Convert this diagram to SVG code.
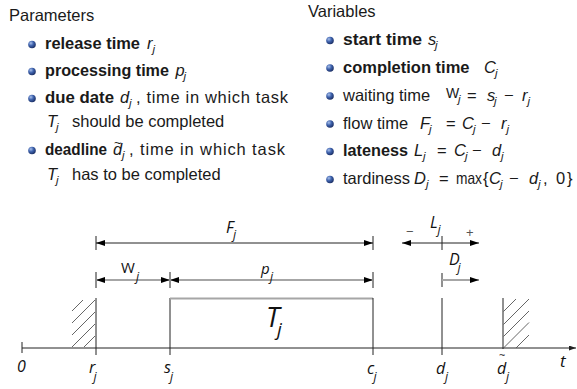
<svg xmlns="http://www.w3.org/2000/svg" width="577" height="389" viewBox="0 0 577 389">
<style>
text{font-family:"Liberation Sans",Arial,sans-serif;font-size:16.5px;fill:#1a1a1a}
.b{font-weight:bold}
.mi{font-style:italic}
.sj{font-style:italic;font-size:11.5px}
.d{font-family:"Open Sans","Liberation Sans",sans-serif;font-style:italic;font-size:16px;fill:#111}
.ds{font-family:"Open Sans","Liberation Sans",sans-serif;font-style:italic;font-size:12.5px;fill:#111}
.ln{stroke:#222;stroke-width:1;fill:none}
.gl{stroke:#a6a6a6;stroke-width:2.2;fill:none}
.ht{stroke:#555;stroke-width:0.9;fill:none}
</style>
<defs>
<radialGradient id="ball" cx="0.35" cy="0.32" r="0.75">
<stop offset="0" stop-color="#a9c0ea"/>
<stop offset="0.45" stop-color="#3f63ae"/>
<stop offset="1" stop-color="#17295c"/>
</radialGradient>
<marker id="ah" viewBox="0 0 9 6" refX="9" refY="3" markerWidth="9" markerHeight="6" markerUnits="userSpaceOnUse" orient="auto-start-reverse">
<path d="M0,0 L9,3 L0,6 z" fill="#000"/>
</marker>
<marker id="ahs" viewBox="0 0 7 5" refX="7" refY="2.5" markerWidth="7" markerHeight="5" markerUnits="userSpaceOnUse" orient="auto">
<path d="M0,0 L7,2.5 L0,5 z" fill="#222"/>
</marker>
</defs>

<g id="parameters">
<text x="9" y="21">Parameters</text>
<circle cx="32" cy="44.5" r="3.8" fill="url(#ball)"/>
<text class="b" x="45" y="49" textLength="95" lengthAdjust="spacingAndGlyphs">release time</text>
<text class="mi" x="147" y="49">r</text><text class="sj" x="152.5" y="52.5">j</text>
<circle cx="32" cy="71.5" r="3.8" fill="url(#ball)"/>
<text class="b" x="45" y="76" textLength="124" lengthAdjust="spacingAndGlyphs">processing time</text>
<text class="mi" x="175.5" y="76">p</text><text class="sj" x="183.5" y="79.5">j</text>
<circle cx="32" cy="98.5" r="3.8" fill="url(#ball)"/>
<text class="b" x="45" y="103" textLength="69" lengthAdjust="spacingAndGlyphs">due date</text>
<text class="mi" x="120" y="103">d</text><text class="sj" x="129" y="106.5">j</text>
<text x="136" y="103" textLength="152" lengthAdjust="spacing">, time in which task</text>
<text class="mi" x="47" y="127">T</text><text class="sj" x="56" y="130.5">j</text>
<text x="72" y="127">should be completed</text>
<circle cx="32" cy="150.5" r="3.8" fill="url(#ball)"/>
<text class="b" x="45" y="155" textLength="62" lengthAdjust="spacingAndGlyphs">deadline</text>
<text class="mi" x="113" y="155">d</text><text x="114" y="147" style="font-size:13px">~</text><text class="sj" x="122" y="158.5">j</text>
<text x="129" y="155" textLength="156" lengthAdjust="spacing">, time in which task</text>
<text class="mi" x="47" y="180">T</text><text class="sj" x="56" y="183.5">j</text>
<text x="72" y="180">has to be completed</text>
</g>

<g id="variables">
<text x="308" y="17">Variables</text>
<circle cx="330" cy="40.5" r="3.8" fill="url(#ball)"/>
<text class="b" x="343" y="45" textLength="79" lengthAdjust="spacingAndGlyphs">start time</text>
<text class="mi" x="428" y="45">s</text><text class="sj" x="435" y="48.5">j</text>
<circle cx="330" cy="68" r="3.8" fill="url(#ball)"/>
<text class="b" x="343" y="73">completion time</text>
<text class="mi" x="484" y="73">C</text><text class="sj" x="495" y="76.5">j</text>
<circle cx="330" cy="96" r="3.8" fill="url(#ball)"/>
<text x="343" y="101">waiting time</text>
<text x="446" y="98" style="font-size:14px">W</text><text class="sj" x="458" y="103">j</text>
<text x="467" y="101">=</text>
<text class="mi" x="487" y="101">s</text><text class="sj" x="494" y="104.5">j</text>
<text x="504" y="101">−</text>
<text class="mi" x="522" y="101">r</text><text class="sj" x="527.5" y="104.5">j</text>
<circle cx="330" cy="124" r="3.8" fill="url(#ball)"/>
<text x="343" y="129">flow time</text>
<text class="mi" x="420" y="129">F</text><text class="sj" x="429" y="132.5">j</text>
<text x="446" y="129">=</text>
<text class="mi" x="462" y="129">C</text><text class="sj" x="473" y="132.5">j</text>
<text x="481" y="129">−</text>
<text class="mi" x="501" y="129">r</text><text class="sj" x="506.5" y="132.5">j</text>
<circle cx="330" cy="151.5" r="3.8" fill="url(#ball)"/>
<text class="b" x="343" y="156" textLength="65" lengthAdjust="spacingAndGlyphs">lateness</text>
<text class="mi" x="414" y="156">L</text><text class="sj" x="423" y="159.5">j</text>
<text x="437" y="156">=</text>
<text class="mi" x="454" y="156">C</text><text class="sj" x="465" y="159.5">j</text>
<text x="472" y="156">−</text>
<text class="mi" x="492" y="156">d</text><text class="sj" x="501" y="159.5">j</text>
<circle cx="330" cy="179.5" r="3.8" fill="url(#ball)"/>
<text x="343" y="184">tardiness</text>
<text class="mi" x="414" y="184">D</text><text class="sj" x="426" y="187.5">j</text>
<text x="439" y="184">=</text>
<text x="456" y="184" textLength="26" lengthAdjust="spacingAndGlyphs">max</text>
<text x="483" y="184">{</text>
<text class="mi" x="489" y="184">C</text><text class="sj" x="500" y="187.5">j</text>
<text x="509" y="184">−</text>
<text class="mi" x="529" y="184">d</text><text class="sj" x="538" y="187.5">j</text>
<text x="543" y="184">,</text>
<text x="556" y="184">0</text>
<text x="567" y="184">}</text>
</g>

<g id="timeline">
<line class="ln" x1="22" y1="348" x2="576" y2="348" marker-end="url(#ahs)"/>
<line class="ln" x1="22" y1="342" x2="22" y2="353"/>
<text class="d" x="560" y="367" style="font-size:17px">t</text>
</g>

<g id="release">
<line class="ln" x1="96" y1="298" x2="96" y2="355"/>
<g class="ht">
<line x1="72" y1="311" x2="83" y2="300"/>
<line x1="72" y1="323" x2="95" y2="300"/>
<line x1="72" y1="335" x2="95" y2="312"/>
<line x1="72" y1="347" x2="95" y2="324"/>
<line x1="84" y1="347" x2="95" y2="336"/>
</g>
<text class="d" x="89" y="373">r</text><text class="ds" x="93.5" y="381">j</text>
<text class="d" x="17" y="372">0</text>
</g>

<g id="start">
<line class="ln" x1="170" y1="298" x2="170" y2="355"/>
<text class="d" x="164" y="373">s</text><text class="ds" x="170" y="381">j</text>
</g>

<g id="task">
<line class="gl" x1="170" y1="298.5" x2="373" y2="298.5"/>
<line class="ln" x1="373" y1="298" x2="373" y2="355"/>
<text class="d" x="266" y="327" style="font-size:27px">T</text><text class="d" x="277" y="336" style="font-size:19px">j</text>
<text class="d" x="367" y="374">c</text><text class="ds" x="373.5" y="381">j</text>
</g>

<g id="due">
<line class="ln" x1="442" y1="298" x2="442" y2="355"/>
<text class="d" x="436" y="374">d</text><text class="ds" x="445" y="381">j</text>
</g>

<g id="deadline">
<line class="ln" x1="503" y1="298" x2="503" y2="349"/>
<g class="ht">
<line x1="503.5" y1="311.5" x2="516" y2="299"/>
<line x1="503.5" y1="324.5" x2="529" y2="299"/>
<line x1="503.5" y1="336.5" x2="529" y2="311"/>
<line x1="503.5" y1="348" x2="529" y2="322.5"/>
<line x1="516" y1="348" x2="529" y2="335"/>
</g>
<text class="d" x="497" y="374">d</text><text class="d" x="499" y="359" style="font-size:11px;font-style:normal">~</text><text class="ds" x="506" y="381">j</text>
</g>

<g id="connectors">
<line class="ln" x1="96" y1="236" x2="96" y2="250"/>
<line class="ln" x1="373" y1="236" x2="373" y2="250"/>
<line class="ln" x1="96" y1="243" x2="373" y2="243" marker-start="url(#ah)" marker-end="url(#ah)"/>
<text class="d" x="226" y="233">F</text><text class="ds" x="233" y="239">j</text>

<line class="ln" x1="96" y1="272" x2="96" y2="288"/>
<line class="ln" x1="170" y1="272" x2="170" y2="288"/>
<line class="ln" x1="373" y1="272" x2="373" y2="288"/>
<line class="gl" x1="96" y1="280" x2="170" y2="280" marker-start="url(#ah)" marker-end="url(#ah)"/>
<line class="gl" x1="170" y1="280" x2="373" y2="280" marker-start="url(#ah)" marker-end="url(#ah)"/>
<text x="121" y="273" style="font-family:'Open Sans','Liberation Sans',sans-serif;font-size:15px;fill:#111">W</text><text class="ds" x="136" y="281">j</text>
<text class="d" x="261" y="274" style="font-size:15px">p</text><text class="ds" x="270" y="281">j</text>

<line class="ln" x1="442" y1="236" x2="442" y2="250"/>
<line class="ln" x1="402" y1="243" x2="479" y2="243" marker-start="url(#ah)" marker-end="url(#ah)"/>
<text class="d" x="430" y="228">L</text><text class="ds" x="437.5" y="234">j</text>
<text x="406" y="236" style="font-size:13px;fill:#555">−</text>
<text x="466" y="237" style="font-size:13px;fill:#555">+</text>

<line class="ln" x1="442" y1="273" x2="442" y2="287"/>
<line class="gl" x1="442" y1="280" x2="479" y2="280" marker-end="url(#ah)"/>
<text class="d" x="449" y="265">D</text><text class="ds" x="457.5" y="272">j</text>
</g>
</svg>
